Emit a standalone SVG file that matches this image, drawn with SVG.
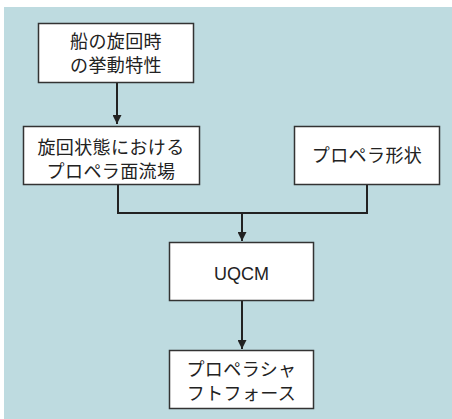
<svg xmlns="http://www.w3.org/2000/svg" width="452" height="419" viewBox="0 0 452 419">
<defs>
<style>
.box{fill:#ffffff;stroke:#333333;stroke-width:1.5}
.jp{font-family:"Noto Sans CJK JP","Noto Sans",sans-serif;font-size:18px;fill:#222222;text-anchor:middle;letter-spacing:0.4px}
.en{font-family:"Liberation Sans",Arial,sans-serif;font-size:18px;fill:#222222;text-anchor:middle}
.ln{fill:none;stroke:#222222;stroke-width:2}
</style>
<marker id="ah" viewBox="0 0 10 10" refX="10" refY="5" markerWidth="4.5" markerHeight="4.5" orient="auto" markerUnits="strokeWidth">
<path d="M0,0 L10,5 L0,10 Z" fill="#222222"/>
</marker>
</defs>
<rect x="4" y="7" width="448" height="412" fill="#bedbe0"/>
<g id="connectors">
<line class="ln" x1="117" y1="82" x2="117" y2="124" marker-end="url(#ah)"/>
<polyline class="ln" points="118,184 118,213 367,213 367,184"/>
<line class="ln" x1="242" y1="213" x2="242" y2="241" marker-end="url(#ah)"/>
<line class="ln" x1="242" y1="301" x2="242" y2="349" marker-end="url(#ah)"/>
</g>
<g id="n1">
<rect class="box" x="38.5" y="23.5" width="155" height="59"/>
<text class="jp" x="116" y="48">船の旋回時</text>
<text class="jp" x="116" y="72">の挙動特性</text>
</g>
<g id="n2">
<rect class="box" x="23.5" y="126.5" width="176" height="58"/>
<text class="jp" x="111" y="154">旋回状態における</text>
<text class="jp" x="111" y="178">プロペラ面流場</text>
</g>
<g id="n3">
<rect class="box" x="294.5" y="126.5" width="145" height="58"/>
<text class="jp" x="367" y="162">プロペラ形状</text>
</g>
<g id="n4">
<rect class="box" x="169.5" y="242.5" width="144" height="58"/>
<text class="en" x="241.5" y="280">UQCM</text>
</g>
<g id="n5">
<rect class="box" x="169.5" y="350.5" width="144" height="58"/>
<text class="jp" x="241.5" y="376">プロペラシャ</text>
<text class="jp" x="241.5" y="400">フトフォース</text>
</g>
</svg>
